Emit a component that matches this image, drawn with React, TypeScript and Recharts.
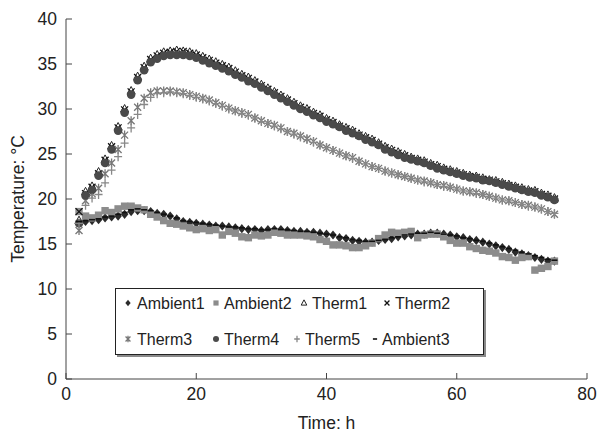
import { LineChart, Line, XAxis, YAxis, Label } from "recharts";

const hours = [
  2, 3, 4, 5, 6, 7, 8, 9, 10, 11, 12, 13, 14, 15, 16, 17, 18, 19, 20, 21, 22, 23, 24, 25,
  26, 27, 28, 29, 30, 31, 32, 33, 34, 35, 36, 37, 38, 39, 40, 41, 42, 43, 44, 45, 46, 47,
  48, 49, 50, 51, 52, 53, 54, 55, 56, 57, 58, 59, 60, 61, 62, 63, 64, 65, 66, 67, 68, 69,
  70, 71, 72, 73, 74, 75,
];

const ambient1 = [
  17.4, 17.5, 17.6, 17.7, 17.9, 18.0, 18.1, 18.3, 18.6, 18.7,
  18.7, 18.6, 18.4, 18.3, 18.1, 17.8, 17.5, 17.4, 17.3, 17.2,
  17.1, 17.0, 17.0, 16.9, 16.8, 16.7, 16.6, 16.6, 16.5, 16.6,
  16.6, 16.6, 16.5, 16.4, 16.4, 16.3, 16.3, 16.2, 16.1, 16.0,
  15.7, 15.6, 15.4, 15.3, 15.2, 15.2, 15.4, 15.5, 15.6, 15.8,
  15.9, 16.0, 16.1, 16.1, 16.2, 16.2, 16.1, 16.0, 15.8, 15.7,
  15.5, 15.4, 15.2, 15.0, 14.8, 14.6, 14.4, 14.1, 13.9, 13.7,
  13.5, 13.3, 13.1, 13.1,
];

const ambient2 = [
  18.6, 18.1, 17.9, 18.2, 18.7, 18.5, 18.9, 19.2, 19.2, 19.0,
  18.8, 18.3, 18.0, 17.6, 17.3, 17.2, 17.0, 16.8, 16.6, 16.7,
  16.5, 16.6, 16.0, 16.4, 16.2, 15.8, 15.7, 16.0, 15.9, 16.0,
  16.3, 16.2, 16.0, 16.0, 16.0, 15.9, 15.8, 15.5, 15.3, 14.9,
  14.9, 14.8, 14.6, 14.6, 14.8, 15.1, 15.6, 16.0, 16.3, 16.2,
  16.3, 16.4, 15.7, 16.0, 16.1, 16.1, 15.8, 15.4, 15.1, 15.1,
  14.7, 14.5, 14.3, 14.2, 14.0, 13.6, 13.5, 13.2, 13.5, 13.6,
  12.1, 12.3, 12.5, 13.1,
];

const therm1 = [
  17.6, 20.8, 21.4, 23.0, 24.4, 25.9, 28.0, 30.0, 32.0, 33.6,
  34.7, 35.6, 36.0, 36.3, 36.4, 36.5, 36.4, 36.3, 36.1, 35.8,
  35.5, 35.2, 34.9, 34.6, 34.2, 33.8, 33.5, 33.1, 32.7, 32.3,
  31.9, 31.5, 31.1, 30.7, 30.3, 30.0, 29.6, 29.3, 28.9, 28.6,
  28.2, 27.9, 27.6, 27.2, 26.9, 26.6, 26.2, 25.8, 25.5, 25.2,
  24.9, 24.6, 24.4, 24.2, 23.9, 23.7, 23.4, 23.2, 23.0, 22.8,
  22.6, 22.5, 22.3, 22.1, 22.0, 21.8, 21.6, 21.4, 21.2, 21.0,
  20.9, 20.6, 20.4, 20.1,
];

const therm2 = [
  18.6, 20.6, 21.3, 22.8, 24.3, 25.8, 27.9, 29.9, 31.9, 33.5,
  34.6, 35.5, 35.9, 36.2, 36.3, 36.4, 36.4, 36.2, 36.0, 35.7,
  35.4, 35.1, 34.8, 34.5, 34.1, 33.7, 33.4, 33.0, 32.6, 32.2,
  31.8, 31.4, 31.0, 30.6, 30.2, 29.9, 29.5, 29.2, 28.8, 28.5,
  28.1, 27.8, 27.5, 27.1, 26.8, 26.5, 26.1, 25.7, 25.4, 25.1,
  24.8, 24.5, 24.3, 24.1, 23.8, 23.6, 23.3, 23.1, 22.9, 22.7,
  22.5, 22.4, 22.2, 22.1, 21.9, 21.7, 21.5, 21.3, 21.1, 20.9,
  20.8, 20.5, 20.3, 20.0,
];

const therm3 = [
  16.5, 19.8, 20.6, 21.2, 22.8, 24.0, 25.5, 27.1, 28.7, 30.2,
  31.2, 31.8, 32.0, 32.0, 32.0, 31.9, 31.8, 31.6, 31.4, 31.2,
  31.0, 30.7, 30.4, 30.1, 29.8, 29.6, 29.4, 29.0, 28.7, 28.4,
  28.2, 27.9, 27.5, 27.3, 27.0, 26.7, 26.4, 26.0, 25.7, 25.4,
  25.1, 24.8, 24.6, 24.2, 23.9, 23.6, 23.4, 23.1, 22.9, 22.7,
  22.5, 22.3, 22.1, 22.0, 21.8, 21.6, 21.5, 21.3, 21.1, 20.9,
  20.8, 20.7, 20.5, 20.3, 20.1, 19.9, 19.8, 19.6, 19.4, 19.3,
  19.1, 18.9, 18.6, 18.3,
];

const therm4 = [
  17.3, 20.4, 21.0, 22.6, 24.0, 25.5, 27.6, 29.6, 31.6, 33.2,
  34.3, 35.2, 35.6, 35.9, 36.0, 36.0, 36.0, 35.9, 35.7, 35.4,
  35.1, 34.8, 34.5, 34.2, 33.8, 33.5, 33.1, 32.8, 32.4, 32.0,
  31.6, 31.2, 30.8, 30.4, 30.0, 29.7, 29.3, 29.0, 28.6, 28.3,
  28.0, 27.6, 27.3, 27.0, 26.6, 26.3, 26.0, 25.5, 25.2, 24.9,
  24.6, 24.4, 24.2, 24.0, 23.7, 23.4, 23.2, 23.0, 22.8, 22.6,
  22.4, 22.3, 22.1, 22.0, 21.8, 21.6, 21.4, 21.2, 21.0, 20.8,
  20.7, 20.4, 20.2, 19.9,
];

const therm5 = [
  17.3, 19.3, 20.1, 20.5, 21.8, 23.2, 24.7, 26.2, 27.9, 29.4,
  30.5, 31.3, 31.7, 31.8, 31.9, 31.8, 31.7, 31.5, 31.3, 31.1,
  30.9, 30.6, 30.3, 30.0, 29.8, 29.5, 29.3, 29.0, 28.6, 28.4,
  28.1, 27.8, 27.5, 27.2, 26.9, 26.6, 26.3, 26.0, 25.7, 25.4,
  25.1, 24.8, 24.5, 24.2, 23.9, 23.6, 23.4, 23.1, 22.9, 22.7,
  22.5, 22.3, 22.1, 21.9, 21.8, 21.6, 21.4, 21.3, 21.1, 20.9,
  20.8, 20.6, 20.5, 20.3, 20.1, 19.9, 19.8, 19.6, 19.4, 19.2,
  19.1, 18.9, 18.6, 18.4,
];

const ambient3 = [
  17.5, 17.6, 17.7, 17.8, 18.0, 18.1, 18.3, 18.5, 18.8, 18.9,
  18.8, 18.7, 18.5, 18.3, 18.1, 17.9, 17.6, 17.5, 17.4, 17.3,
  17.2, 17.1, 17.0, 16.9, 16.9, 16.8, 16.7, 16.7, 16.6, 16.6,
  16.7, 16.6, 16.6, 16.5, 16.4, 16.4, 16.3, 16.2, 16.1, 16.0,
  15.8, 15.7, 15.5, 15.4, 15.3, 15.3, 15.4, 15.5, 15.7, 15.8,
  16.0, 16.1, 16.2, 16.2, 16.3, 16.2, 16.1, 16.0, 15.9, 15.7,
  15.6, 15.4, 15.3, 15.1, 14.9, 14.7, 14.5, 14.3, 14.1, 13.9,
  13.7, 13.5, 13.3, 13.2,
];

const xTicks = [0, 20, 40, 60, 80];
const yTicks = [0, 5, 10, 15, 20, 25, 30, 35, 40];

const data = hours.map((h, i) => ({
  h,
  ambient1: ambient1[i],
  ambient2: ambient2[i],
  therm1: therm1[i],
  therm2: therm2[i],
  therm3: therm3[i],
  therm4: therm4[i],
  therm5: therm5[i],
  ambient3: ambient3[i],
}));

const FONT = "'Liberation Sans', Arial, sans-serif";

type Shape = "diamond" | "square" | "triangle" | "x" | "star" | "circle" | "plus" | "dash";

// one marker glyph, s = scale
function glyph(shape: Shape, cx: number, cy: number, color: string, s = 1, key?: string) {
  switch (shape) {
    case "diamond":
      return <path key={key} d={`M${cx},${cy - 4.6 * s}L${cx + 3.8 * s},${cy}L${cx},${cy + 4.6 * s}L${cx - 3.8 * s},${cy}Z`} fill={color} />;
    case "square":
      return <rect key={key} x={cx - 3.7 * s} y={cy - 3.7 * s} width={7.4 * s} height={7.4 * s} fill={color} />;
    case "triangle":
      return <path key={key} d={`M${cx},${cy - 4.5 * s}L${cx + 4 * s},${cy + 3 * s}L${cx - 4 * s},${cy + 3 * s}Z`} fill="#fff" stroke={color} strokeWidth={1} />;
    case "x":
      return (
        <path key={key} d={`M${cx - 3.5 * s},${cy - 3.5 * s}L${cx + 3.5 * s},${cy + 3.5 * s}M${cx + 3.5 * s},${cy - 3.5 * s}L${cx - 3.5 * s},${cy + 3.5 * s}`} stroke={color} strokeWidth={1.3} />
      );
    case "star":
      return (
        <path key={key} d={`M${cx - 3.5 * s},${cy - 3.5 * s}L${cx + 3.5 * s},${cy + 3.5 * s}M${cx + 3.5 * s},${cy - 3.5 * s}L${cx - 3.5 * s},${cy + 3.5 * s}M${cx},${cy - 4.5 * s}L${cx},${cy + 4.5 * s}`} stroke={color} strokeWidth={1.3} />
      );
    case "circle":
      return <circle key={key} cx={cx} cy={cy} r={4.3 * s} fill={color} />;
    case "plus":
      return <path key={key} d={`M${cx - 4 * s},${cy}L${cx + 4 * s},${cy}M${cx},${cy - 4.5 * s}L${cx},${cy + 4.5 * s}`} stroke={color} strokeWidth={1.3} />;
    case "dash":
      return <path key={key} d={`M${cx - 3 * s},${cy}L${cx + 3 * s},${cy}`} stroke={color} strokeWidth={1.6} />;
  }
}

const series: { key: string; name: string; shape: Shape; color: string }[] = [
  { key: "ambient1", name: "Ambient1", shape: "diamond", color: "#2b2b2b" },
  { key: "ambient2", name: "Ambient2", shape: "square", color: "#8c8c8c" },
  { key: "therm1", name: "Therm1", shape: "triangle", color: "#222" },
  { key: "therm2", name: "Therm2", shape: "x", color: "#111" },
  { key: "therm3", name: "Therm3", shape: "star", color: "#777" },
  { key: "therm4", name: "Therm4", shape: "circle", color: "#4a4a4a" },
  { key: "therm5", name: "Therm5", shape: "plus", color: "#888" },
  { key: "ambient3", name: "Ambient3", shape: "dash", color: "#111" },
];

const makeDot = (shape: Shape, color: string) => (p: any) => {
  const { cx, cy, index } = p;
  const k = `${shape}-${index}`;
  if (cx == null || cy == null) return <g key={k} />;
  return glyph(shape, cx, cy, color, 1, k);
};

const XTick = (p: any) => {
  const { x, y, payload } = p;
  return (
    <g>
      <line x1={x} x2={x} y1={y} y2={y - 6} stroke="#444" />
      <text x={x} y={y + 20.5} textAnchor="middle" fontSize={17.5} fill="#222" fontFamily={FONT}>
        {payload.value}
      </text>
    </g>
  );
};

const YTick = (p: any) => {
  const { x, y, payload } = p;
  return (
    <g>
      <line x1={x} x2={x + 6} y1={y} y2={y} stroke="#444" />
      <text x={x - 9} y={y + 6.3} textAnchor="end" fontSize={17.5} fill="#222" fontFamily={FONT}>
        {payload.value}
      </text>
    </g>
  );
};

// legend slots: marker centre x, text x, row
const legendPos = [
  { mx: 128, tx: 137, row: 0 },
  { mx: 216, tx: 224, row: 0 },
  { mx: 304, tx: 312, row: 0 },
  { mx: 387, tx: 395, row: 0 },
  { mx: 128, tx: 137, row: 1 },
  { mx: 216, tx: 224, row: 1 },
  { mx: 297, tx: 305, row: 1 },
  { mx: 375, tx: 382, row: 1 },
];

function ChartLegend() {
  const rowsY = [303, 339];
  return (
    <div
      style={{
        position: "absolute",
        left: 115,
        top: 288,
        width: 369,
        height: 67,
        border: "1px solid #222",
        boxShadow: "2px 2px 0 #8a8a8a",
        background: "#fff",
        boxSizing: "border-box",
      }}
    >
      <svg width={369} height={67} style={{ position: "absolute", left: -1, top: -1 }}>
        {series.map((s, i) => {
          const pos = legendPos[i];
          const cy = rowsY[pos.row] - 288;
          return (
            <g key={s.key}>
              {glyph(s.shape, pos.mx - 115, cy, s.color, 0.7)}
              <text x={pos.tx - 115} y={cy + 5.6} fontSize={16} fill="#222" fontFamily={FONT}>
                {s.name}
              </text>
            </g>
          );
        })}
      </svg>
    </div>
  );
}

export default function App() {
  return (
    <div style={{ position: "absolute", left: 0, top: 0, width: 597, height: 437, background: "#fff" }}>
      <LineChart width={597} height={437} data={data} margin={{ top: 19, right: 10, bottom: 0, left: 0 }}>
        <XAxis
          dataKey="h"
          type="number"
          domain={[0, 80]}
          ticks={xTicks}
          tickLine={false}
          tickSize={0}
          tickMargin={0}
          height={58}
          axisLine={{ stroke: "#444" }}
          tick={XTick}
        >
          <Label
            content={(p: any) => {
              const vb = p.viewBox;
              return (
                <text x={vb.x + vb.width / 2} y={vb.y + 50} textAnchor="middle" fontSize={17.5} fill="#222" fontFamily={FONT}>
                  Time: h
                </text>
              );
            }}
          />
        </XAxis>
        <YAxis
          type="number"
          domain={[0, 40]}
          ticks={yTicks}
          tickLine={false}
          tickSize={0}
          tickMargin={0}
          width={66}
          axisLine={{ stroke: "#444" }}
          tick={YTick}
        >
          <Label
            content={(p: any) => {
              const vb = p.viewBox;
              const cx = vb.x + 18;
              const cy = vb.y + vb.height / 2;
              return (
                <text x={cx} y={cy} transform={`rotate(-90, ${cx}, ${cy})`} textAnchor="middle" dominantBaseline="central" fontSize={17.5} fill="#222" fontFamily={FONT}>
                  Temperature: °C
                </text>
              );
            }}
          />
        </YAxis>
        {series.map((s) => (
          <Line
            key={s.key}
            dataKey={s.key}
            name={s.name}
            stroke="none"
            dot={makeDot(s.shape, s.color)}
            activeDot={false}
            isAnimationActive={false}
          />
        ))}
      </LineChart>
      <ChartLegend />
    </div>
  );
}
